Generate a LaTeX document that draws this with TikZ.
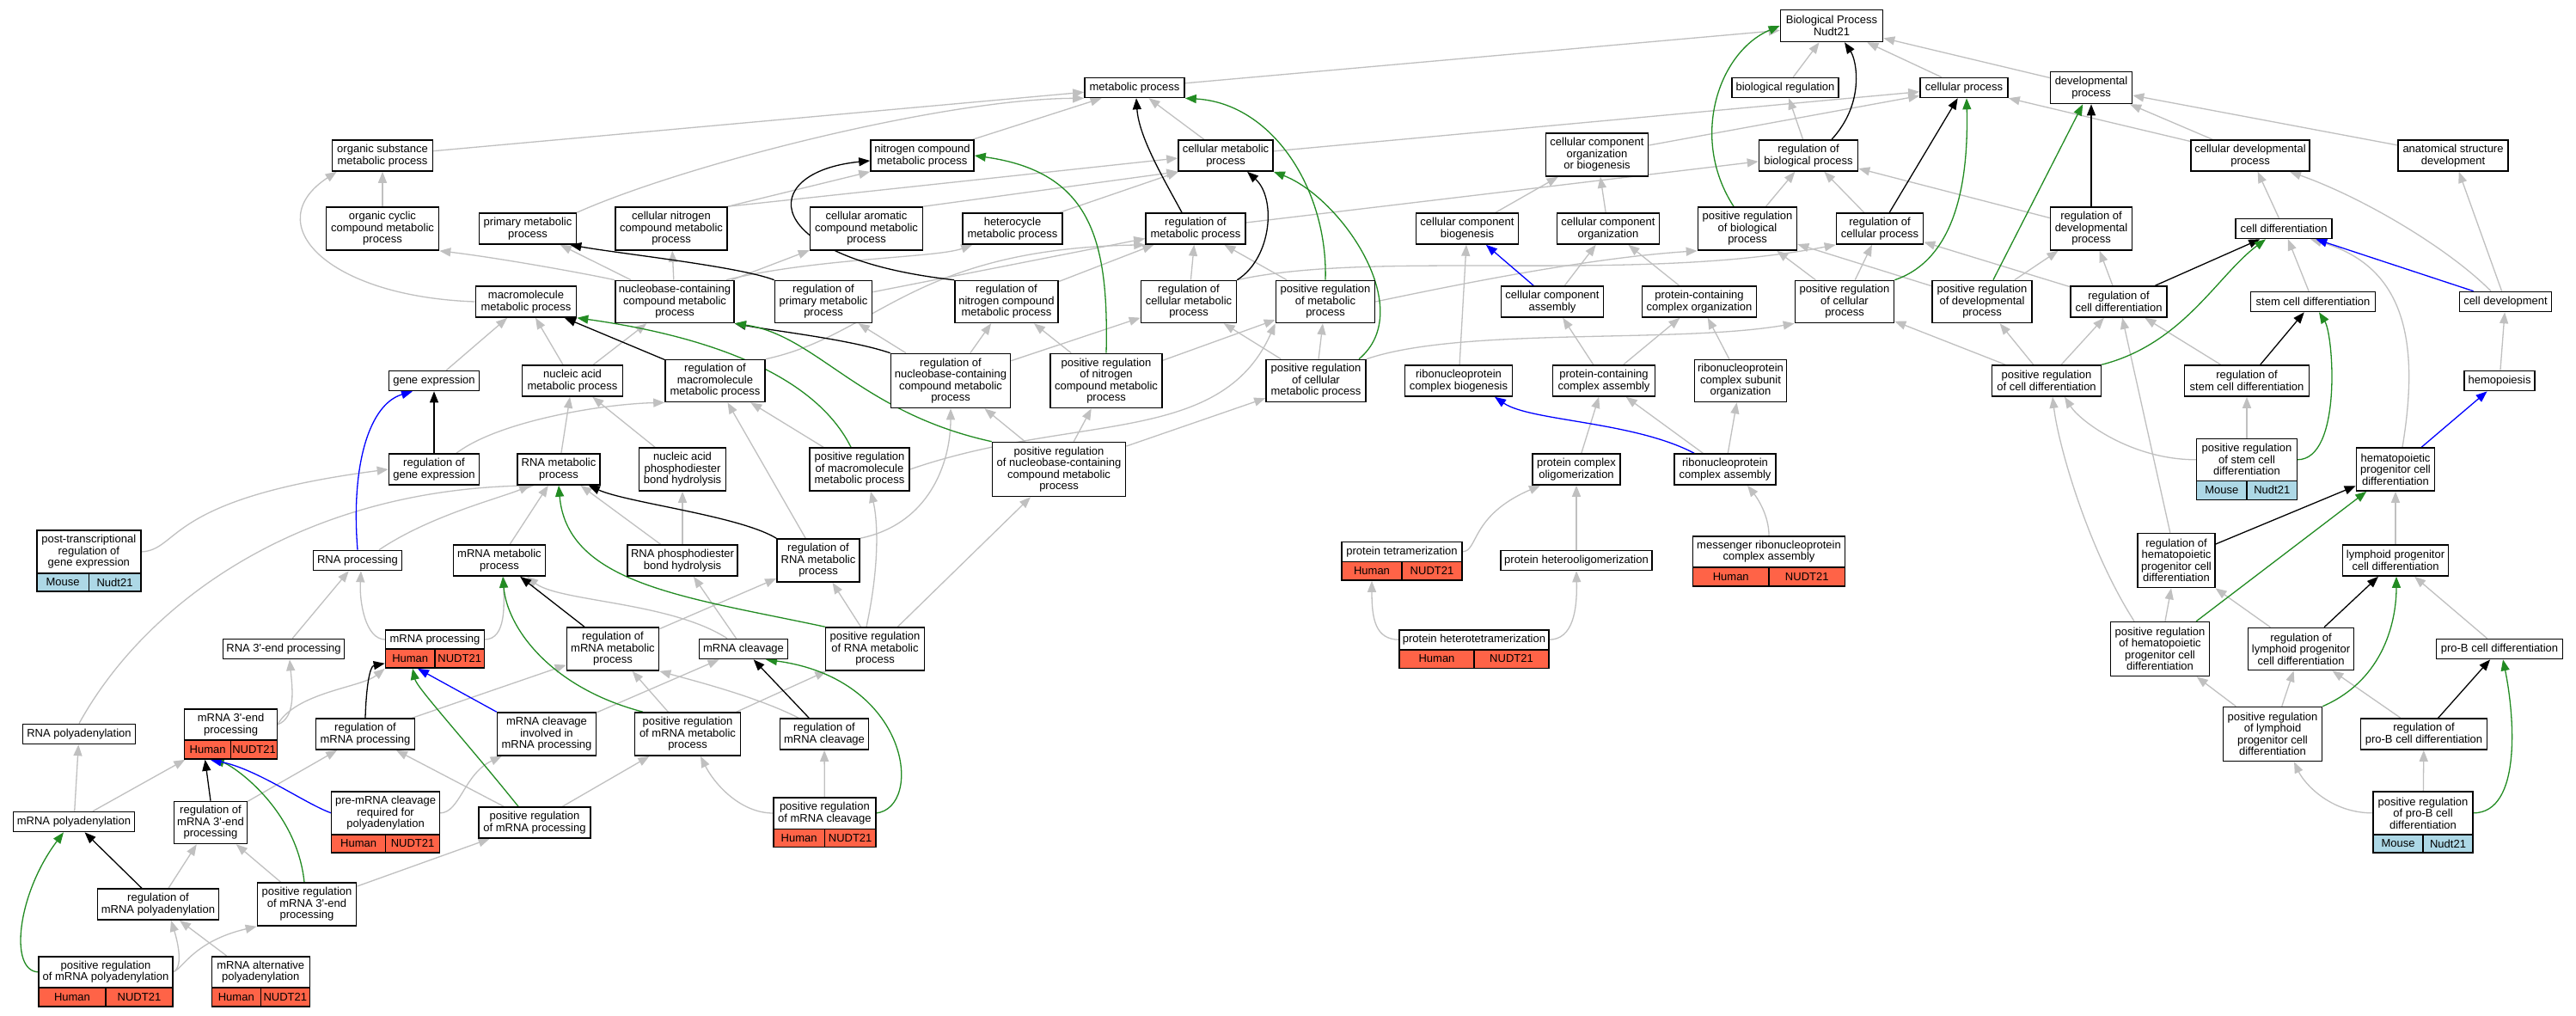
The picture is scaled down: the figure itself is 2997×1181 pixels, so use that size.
\documentclass[tikz,border=0pt]{standalone}
\usepackage{fontspec}
\usetikzlibrary{arrows.meta}
\newfontfamily\gofont{Liberation Sans}
\newcommand{\gotext}{\gofont\fontsize{13pt}{13.5pt}\selectfont}
\definecolor{edgegray}{HTML}{C0C0C0}
\definecolor{gograss}{HTML}{228B22}
\definecolor{Human}{HTML}{FF6347}
\definecolor{Mouse}{HTML}{ADD8E6}
\pgfdeclarelayer{bg}
\pgfsetlayers{bg,main}
\tikzset{
  box/.style={draw=black, line width=1.6pt, fill=white, inner sep=0pt, align=center, font=\gotext},
  cell/.style={draw=black, line width=1.6pt, inner sep=0pt, font=\gotext},
  tpart/.style={inner sep=0pt, align=center, font=\gotext},
  ed/.style={line width=1.3pt, -{Triangle[length=13pt,width=10pt]}},
  ge/.style={ed, draw=edgegray},
  bk/.style={ed, draw=black},
  gn/.style={ed, draw=gograss},
  bl/.style={ed, draw=blue}
}
\newcommand{\gonode}[6]{\node[box, minimum width=#4pt, minimum height=#5pt] (#1) at (#2,#3) {#6};}
\newcommand{\annotnode}[9]{%
  \node[box, minimum width=#6pt, minimum height={(#5-#3)*1pt}] (#1) at ({#2},{(#3+#5)/2}) {};
  \node[tpart, minimum width=#6pt, minimum height={(#4-#3)*1pt}] (#1-t) at ({#2},{(#3+#4)/2}) {#7};
  \node[cell, fill=#8, minimum width={#6/2*1pt}, minimum height={(#5-#4)*1pt}] (#1-s) at ({#2-#6/4},{(#4+#5)/2}) {#8};
  \node[cell, fill=#8, minimum width={#6/2*1pt}, minimum height={(#5-#4)*1pt}] (#1-g) at ({#2+#6/4},{(#4+#5)/2}) {#9};
}
\begin{document}
\begin{tikzpicture}[x=1pt,y=-1pt]
\useasboundingbox (0,0) rectangle (2997,1181);
% ---------- nodes ----------
\gonode{bp}{2131}{30}{119}{37}{Biological Process\\Nudt21}
\gonode{metab}{1320}{102}{116}{23}{metabolic process}
\gonode{bioreg}{2077}{102}{124}{23}{biological regulation}
\gonode{cellproc}{2285}{102}{102}{23}{cellular process}
\gonode{devproc}{2433}{102}{95}{37}{developmental\\process}
\gonode{osmp}{445}{181}{117}{36}{organic substance\\metabolic process}
\gonode{ncmp}{1073}{181}{120}{36}{nitrogen compound\\metabolic process}
\gonode{cmp}{1426}{181}{110}{36}{cellular metabolic\\process}
\gonode{ccob}{1858}{180}{119}{50}{cellular component\\organization\\or biogenesis}
\gonode{rbp}{2104}{181}{115}{36}{regulation of\\biological process}
\gonode{cdp}{2618}{181}{138}{36}{cellular developmental\\process}
\gonode{asd}{2854}{181}{128}{36}{anatomical structure\\development}
\gonode{occ}{445}{266}{131}{50}{organic cyclic\\compound metabolic\\process}
\gonode{prim}{614}{266}{113}{36}{primary metabolic\\process}
\gonode{cnc}{781}{266}{130}{50}{cellular nitrogen\\compound metabolic\\process}
\gonode{cac}{1008}{266}{131}{50}{cellular aromatic\\compound metabolic\\process}
\gonode{het}{1178}{266}{116}{36}{heterocycle\\metabolic process}
\gonode{rmp}{1391}{266}{116}{36}{regulation of\\metabolic process}
\gonode{ccb}{1707}{266}{119}{36}{cellular component\\biogenesis}
\gonode{cco}{1871}{266}{119}{36}{cellular component\\organization}
\gonode{prbp}{2033}{266}{115}{50}{positive regulation\\of biological\\process}
\gonode{rcp}{2187}{266}{101}{36}{regulation of\\cellular process}
\gonode{rdp}{2433}{266}{95}{50}{regulation of\\developmental\\process}
\gonode{celldiff}{2657}{266}{112}{23}{cell differentiation}
\gonode{mm}{612}{351}{117}{36}{macromolecule\\metabolic process}
\gonode{nb}{785}{351}{138}{49}{nucleobase-containing\\compound metabolic\\process}
\gonode{rp}{958}{351}{113}{49}{regulation of\\primary metabolic\\process}
\gonode{rn}{1171}{351}{120}{49}{regulation of\\nitrogen compound\\metabolic process}
\gonode{rcm}{1383}{351}{111}{49}{regulation of\\cellular metabolic\\process}
\gonode{prm}{1542}{351}{115}{49}{positive regulation\\of metabolic\\process}
\gonode{cca}{1806}{351}{119}{36}{cellular component\\assembly}
\gonode{pcco}{1977}{351}{133}{36}{protein-containing\\complex organization}
\gonode{prcp}{2146}{351}{115}{49}{positive regulation\\of cellular\\process}
\gonode{prdp}{2306}{351}{116}{49}{positive regulation\\of developmental\\process}
\gonode{rcd}{2465}{351}{112}{36}{regulation of\\cell differentiation}
\gonode{scd}{2691}{351}{145}{23}{stem cell differentiation}
\gonode{cdev}{2915}{351}{107}{23}{cell development}
\gonode{ge}{505}{443}{105}{23}{gene expression}
\gonode{na}{666}{443}{117}{36}{nucleic acid\\metabolic process}
\gonode{rmm}{832}{443}{116}{49}{regulation of\\macromolecule\\metabolic process}
\gonode{rnb}{1106}{443}{139}{63}{regulation of\\nucleobase-containing\\compound metabolic\\process}
\gonode{prn}{1287}{443}{130}{63}{positive regulation\\of nitrogen\\compound metabolic\\process}
\gonode{prcm}{1531}{443}{116}{49}{positive regulation\\of cellular\\metabolic process}
\gonode{rcb}{1697}{443}{125}{36}{ribonucleoprotein\\complex biogenesis}
\gonode{pcca}{1866}{443}{119}{36}{protein-containing\\complex assembly}
\gonode{rcso}{2025}{443}{107}{49}{ribonucleoprotein\\complex subunit\\organization}
\gonode{prcd}{2381}{443}{127}{36}{positive regulation\\of cell differentiation}
\gonode{rscd}{2614}{443}{145}{36}{regulation of\\stem cell differentiation}
\gonode{hem}{2908}{443}{82}{23}{hemopoiesis}
\gonode{rge}{505}{546}{105}{36}{regulation of\\gene expression}
\gonode{rnam}{650}{546}{96}{36}{RNA metabolic\\process}
\gonode{napbh}{794}{546}{101}{50}{nucleic acid\\phosphodiester\\bond hydrolysis}
\gonode{prmm}{1000}{546}{116}{50}{positive regulation\\of macromolecule\\metabolic process}
\gonode{prnb}{1232}{546}{155}{63}{positive regulation\\of nucleobase-containing\\compound metabolic\\process}
\gonode{pco}{1834}{546}{102}{36}{protein complex\\oligomerization}
\gonode{rca}{2007}{546}{118}{36}{ribonucleoprotein\\complex assembly}
\gonode{hpcd}{2787}{546}{91}{50}{hematopoietic\\progenitor cell\\differentiation}
\gonode{rnap}{416}{652}{103}{23}{RNA processing}
\gonode{mrnam}{581}{652}{107}{36}{mRNA metabolic\\process}
\gonode{rpbh}{794}{652}{128}{36}{RNA phosphodiester\\bond hydrolysis}
\gonode{rrm}{952}{652}{96}{50}{regulation of\\RNA metabolic\\process}
\gonode{pho}{1834}{652}{176}{23}{protein heterooligomerization}
\gonode{rhpcd}{2532}{652}{90}{63}{regulation of\\hematopoietic\\progenitor cell\\differentiation}
\gonode{lpcd}{2787}{652}{123}{36}{lymphoid progenitor\\cell differentiation}
\gonode{r3p}{330}{755}{141}{23}{RNA 3\textquotesingle-end processing}
\gonode{rmrnam}{713}{755}{107}{50}{regulation of\\mRNA metabolic\\process}
\gonode{mrc}{865}{755}{103}{23}{mRNA cleavage}
\gonode{prrna}{1018}{755}{115}{50}{positive regulation\\of RNA metabolic\\process}
\gonode{prhpcd}{2513}{755}{115}{63}{positive regulation\\of hematopoietic\\progenitor cell\\differentiation}
\gonode{rlpcd}{2677}{755}{123}{49}{regulation of\\lymphoid progenitor\\cell differentiation}
\gonode{pbcd}{2908}{755}{147}{23}{pro-B cell differentiation}
\gonode{rpa}{92}{854}{131}{23}{RNA polyadenylation}
\gonode{rmrnap}{425}{854}{115}{36}{regulation of\\mRNA processing}
\gonode{mci}{636}{854}{115}{50}{mRNA cleavage\\involved in\\mRNA processing}
\gonode{prmrnam}{800}{854}{123}{50}{positive regulation\\of mRNA metabolic\\process}
\gonode{rmrc}{959}{854}{103}{36}{regulation of\\mRNA cleavage}
\gonode{prlpcd}{2644}{854}{115}{63}{positive regulation\\of lymphoid\\progenitor cell\\differentiation}
\gonode{rpbcd}{2820}{854}{147}{36}{regulation of\\pro-B cell differentiation}
\gonode{mpa}{86}{956}{141}{23}{mRNA polyadenylation}
\gonode{rm3}{245}{957}{85}{49}{regulation of\\mRNA 3\textquotesingle-end\\processing}
\gonode{prmrnap}{622}{957}{130}{36}{positive regulation\\of mRNA processing}
\gonode{rmpa}{184}{1052}{141}{36}{regulation of\\mRNA polyadenylation}
\gonode{prm3}{357}{1052}{115}{50}{positive regulation\\of mRNA 3\textquotesingle-end\\processing}
\annotnode{prscd}{2614}{510.3}{559.3}{581.3}{117}{positive regulation\\of stem cell\\differentiation}{Mouse}{Nudt21}
\annotnode{ptr}{103.3}{617}{667}{688}{121}{post-transcriptional\\regulation of\\gene expression}{Mouse}{Nudt21}
\annotnode{ptet}{1631}{630.3}{653.3}{675}{140}{protein tetramerization}{Human}{NUDT21}
\annotnode{mrca}{2058}{623.7}{659.7}{681.7}{177}{messenger ribonucleoprotein\\complex assembly}{Human}{NUDT21}
\annotnode{mrnap}{506}{733}{755}{777}{115}{mRNA processing}{Human}{NUDT21}
\annotnode{pht}{1715}{732.7}{755.7}{777.3}{174}{protein heterotetramerization}{Human}{NUDT21}
\annotnode{m3}{268.6}{825}{861}{883}{108}{mRNA 3\textquotesingle-end\\processing}{Human}{NUDT21}
\annotnode{prem}{448.6}{921}{970.7}{992}{126}{pre-mRNA cleavage\\required for\\polyadenylation}{Human}{NUDT21}
\annotnode{prmrc}{959.4}{927.7}{964.3}{985.3}{119}{positive regulation\\of mRNA cleavage}{Human}{NUDT21}
\annotnode{prpbcd}{2819}{921}{970.7}{992}{116}{positive regulation\\of pro-B cell\\differentiation}{Mouse}{Nudt21}
\annotnode{prmpa}{123}{1112.7}{1149}{1171}{156}{positive regulation\\of mRNA polyadenylation}{Human}{NUDT21}
\annotnode{map}{303.3}{1112.7}{1149}{1171}{114}{mRNA alternative\\polyadenylation}{Human}{NUDT21}
% ---------- edges ----------
\begin{pgfonlayer}{bg}
\fill[white] (0,0) rectangle (2997,1181);
\foreach \a/\b in {osmp/metab, ncmp/metab, cmp/metab, metab/bp, bioreg/bp, cellproc/bp, devproc/bp, occ/osmp,
  het/cmp, cmp/cellproc, ccob/cellproc, rbp/bioreg, prbp/rbp, rcp/rbp, rmp/rbp, rdp/rbp, prcp/rcp, prcp/prbp,
  prdp/prbp, prdp/rdp, rcd/rdp, rcd/rcp, cdp/cellproc, cdp/devproc, asd/devproc, celldiff/cdp, scd/celldiff,
  cdev/asd, prcd/rcd, prcd/prdp, prcd/prcp, rscd/rcd, prscd/rscd, hem/cdev, lpcd/hpcd, rlpcd/rhpcd,
  prhpcd/rhpcd, prlpcd/rlpcd, prlpcd/prhpcd, pbcd/lpcd, rpbcd/rlpcd, prpbcd/rpbcd, rhpcd/rcd,
  ccb/ccob, cco/ccob, cca/cco, pcco/cco, rcb/ccb, pcca/cca, pcca/pcco, rcso/pcco, pco/pcca, rca/pcca,
  rca/rcso, pho/pco, nb/cnc, nb/cac, nb/prim, rcm/rmp, rn/rmp, rp/rmp, prm/rmp, rnb/rp, rnb/rn, rnb/rcm,
  prn/rn, prn/prm, prcm/prm, prcm/rcm, prmm/rmm, prnb/rnb, prnb/prn, prnb/prcm, ge/mm, na/mm, na/nb,
  rnam/na, napbh/na, mrnam/rnam, rpbh/rnam, rpbh/napbh, rrm/rmm, prrna/rrm, prrna/prnb, r3p/rnap,
  rmrnam/rrm, rmrnap/rmrnam, prmrnam/rmrnam, mrc/rpbh, mci/mrc, prmrnam/prrna, prmrnap/rmrnap,
  prmrnap/prmrnam, prmrc/rmrc, rm3/rmrnap, prm3/rm3, prm3/prmrnap, mpa/rpa, mpa/m3, rmpa/rm3, map/rmpa}
  \draw[ge] (\a) -- (\b);
\draw[ge] (cnc.north east) -- (ncmp.south west);
\draw[ge] (cnc.north east) -- ([yshift=-3pt]cmp.west);
\draw[ge] (cac.north east) -- (cmp.south west);
% gray curves
\draw[ge] (mm.west) .. controls (380,345) and (300,260) .. ([xshift=6pt]osmp.south west);
\draw[ge] (prim.north east) .. controls (800,190) and (1100,115) .. (metab.south west);
\draw[ge] (nb.north west) .. controls (680,318) and (580,300) .. (occ.south east);
\draw[ge] ([xshift=-10pt]nb.north east) .. controls (950,300) and (1090,300) .. ([xshift=12pt]het.south west);
\draw[ge] (rmm.north east) .. controls (1020,390) and (1060,290) .. (rmp.south west);
\draw[ge] (prm.east) .. controls (1700,330) and (1850,300) .. (prbp.south west);
\draw[ge] (rcm.north east) .. controls (1600,290) and (1900,330) .. (rcp.south west);
\draw[ge] (prcm.north east) .. controls (1700,380) and (1950,400) .. (prcp.south west);
\draw[ge] (prmm.east) .. controls (1250,480) and (1420,520) .. (prm.south west);
\draw[ge] ([xshift=26pt]rge.north) .. controls (580,490) and (700,470) .. (rmm.south west);
\draw[ge] (ptr-t.east) .. controls (210,640) and (190,580) .. (rge.west);
\draw[ge] ([xshift=25pt]rnap.north) .. controls (500,600) and (580,580) .. ([xshift=-33pt]rnam.south);
\draw[ge] (rpa.north) .. controls (170,700) and (350,570) .. ([xshift=-28pt]rnam.south);
\draw[ge] (rrm.north east) .. controls (1080,610) and (1106,540) .. (rnb.south);
\draw[ge] ([xshift=-10pt]prrna.north) .. controls (1025,650) and (1020,600) .. ([xshift=13pt]prmm.south);
\draw[ge] (mrnap-t.west) .. controls (425,744) and (418,700) .. ([xshift=4pt]rnap.south);
\draw[ge] (mrnap-t.east) .. controls (590,744) and (586,700) .. ([xshift=5pt]mrnam.south);
\draw[ge] (m3-t.east) .. controls (345,835) and (340,800) .. ([xshift=7pt]r3p.south);
\draw[ge] (m3-t.east) .. controls (345,805) and (420,800) .. (mrnap.south west);
\draw[ge] ([xshift=-19pt]mrc.north) .. controls (780,700) and (650,700) .. ([xshift=32pt]mrnam.south);
\draw[ge] ([xshift=-30pt]rmrc.north) .. controls (880,810) and (800,790) .. (rmrnam.south east);
\draw[ge] (prem-t.east) .. controls (535,946) and (540,900) .. ([xshift=6pt]mci.south west);
\draw[ge] (prmrc-t.west) .. controls (860,946) and (830,910) .. ([xshift=15pt]prmrnam.south);
\draw[ge] (prmpa-t.east) .. controls (215,1125) and (205,1090) .. ([xshift=15pt]rmpa.south);
\draw[ge] (prmpa-t.east) .. controls (212,1128) and (225,1095) .. (prm3.south west);
\draw[ge] (pht-t.west) .. controls (1600,744) and (1596,720) .. ([xshift=-35pt]ptet.south);
\draw[ge] (pht-t.east) .. controls (1830,744) and (1835,710) .. (pho.south);
\draw[ge] (ptet-t.east) .. controls (1720,642) and (1710,600) .. ([xshift=-42pt]pco.south);
\draw[ge] (mrca.north) .. controls (2058,600) and (2045,580) .. ([xshift=26pt]rca.south);
\draw[ge] (prscd-t.west) .. controls (2480,535) and (2420,490) .. ([xshift=21pt]prcd.south);
\draw[ge] ([xshift=-30pt]prhpcd.north) .. controls (2430,640) and (2395,520) .. ([xshift=7pt]prcd.south);
\draw[ge] ([xshift=8pt]hpcd.north) .. controls (2815,400) and (2800,310) .. ([xshift=31pt]celldiff.south);
\draw[ge] ([xshift=-17pt]cdev.north) .. controls (2850,290) and (2750,230) .. ([xshift=46pt]cdp.south);
\draw[ge] (prpbcd-t.west) .. controls (2710,946) and (2680,910) .. ([xshift=25pt]prlpcd.south);
% black
\foreach \a/\b in {rcp/cellproc, rdp/devproc, rmm/mm, rge/ge, rmrnam/mrnam, rmrc/mrc, rmpa/mpa,
  rcd/celldiff, rscd/scd, rhpcd/hpcd, rlpcd/lpcd, rpbcd/pbcd}
  \draw[bk] (\a) -- (\b);
\draw[bk] (rm3.north) -- ([xshift=-30pt]m3.south);
\draw[bk] ([xshift=27pt]rbp.north) .. controls (2170,120) and (2160,70) .. ([xshift=15pt]bp.south);
\draw[bk] ([xshift=-16pt]rmp.north) .. controls (1355,210) and (1325,160) .. ([xshift=2pt]metab.south);
\draw[bk] (rcm.north east) .. controls (1480,300) and (1485,230) .. ([xshift=25pt]cmp.south);
\draw[bk] (rn.north west) .. controls (880,300) and (880,200) .. ([yshift=-6pt]ncmp.west);
\draw[bk] (rp.north west) .. controls (860,310) and (720,295) .. ([xshift=-8pt]prim.south east);
\draw[bk] (rnb.north west) .. controls (990,395) and (900,385) .. (nb.south east);
\draw[bk] (rrm.north west) .. controls (860,600) and (730,585) .. ([xshift=-14pt]rnam.south east);
\draw[bk] (rmrnap.north) .. controls (426,800) and (430,775) .. ([yshift=6pt]mrnap.south west);
% green
\draw[gn] (prdp) -- (devproc);
\draw[gn] (prhpcd) -- (hpcd);
\draw[gn] ([xshift=-16pt]prbp.north) .. controls (1965,160) and (2000,60) .. (bp.west);
\draw[gn] (prcp.north east) .. controls (2280,300) and (2290,200) .. ([xshift=3pt]cellproc.south);
\draw[gn] (prm.north) .. controls (1545,220) and (1480,120) .. (metab.south east);
\draw[gn] ([xshift=50pt]prcm.north) .. controls (1650,360) and (1560,230) .. (cmp.south east);
\draw[gn] (prn.north) .. controls (1290,280) and (1270,200) .. (ncmp.east);
\draw[gn] ([xshift=-10pt]prmm.north) .. controls (940,420) and (780,385) .. (mm.south east);
\draw[gn] (prnb.north west) .. controls (1000,480) and (950,390) .. (nb.south east);
\draw[gn] (prrna.north west) .. controls (800,695) and (660,680) .. (rnam.south);
\draw[gn] ([xshift=-52pt]prmrnam.north) .. controls (640,800) and (590,730) .. ([xshift=4pt]mrnam.south);
\draw[gn] ([xshift=-19pt]prmrnap.north) .. controls (540,860) and (485,800) .. ([xshift=-26pt]mrnap.south);
\draw[gn] (prmrc-t.east) .. controls (1075,940) and (1060,790) .. ([xshift=26pt]mrc.south);
\draw[gn] ([xshift=-3pt]prm3.north) .. controls (345,940) and (270,890) .. ([xshift=-21pt]m3.south);
\draw[gn] (prmpa-t.west) .. controls (10,1130) and (20,1040) .. ([xshift=-12pt]mpa.south);
\draw[gn] (prcd.north east) .. controls (2540,400) and (2580,320) .. ([xshift=-21pt]celldiff.south);
\draw[gn] (prscd-t.east) .. controls (2725,535) and (2715,390) .. ([xshift=7pt]scd.south);
\draw[gn] (prlpcd.north east) .. controls (2775,790) and (2788,720) .. ([xshift=1pt]lpcd.south);
\draw[gn] (prpbcd-t.east) .. controls (2935,946) and (2925,830) .. ([xshift=4pt]pbcd.south);
% blue
\draw[bl] (cca) -- (ccb);
\draw[bl] (cdev) -- (celldiff);
\draw[bl] (hpcd) -- (hem);
\draw[bl] (mci.north west) -- ([xshift=-20pt]mrnap.south);
\draw[bl] (rnap.north) .. controls (408,540) and (430,470) .. ([xshift=-25pt]ge.south);
\draw[bl] ([xshift=-36pt]rca.north) .. controls (1900,490) and (1780,490) .. ([xshift=42pt]rcb.south);
\draw[bl] (prem-t.west) .. controls (355,935) and (300,895) .. ([xshift=-24pt]m3.south);
\end{pgfonlayer}
\end{tikzpicture}
\end{document}
